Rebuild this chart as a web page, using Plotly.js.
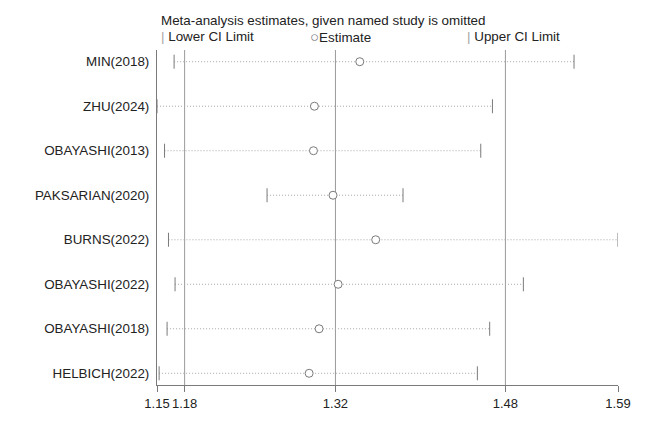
<!DOCTYPE html>
<html>
<head>
<meta charset="utf-8">
<script src="https://cdn.plot.ly/plotly-3.0.1.min.js"></script>
<style>
  html, body { margin: 0; padding: 0; background: #fff; }
  #chart { width: 666px; height: 444px; }
</style>
</head>
<body>
<div id="chart"></div>
<script>
// Leave-one-out sensitivity analysis: pooled estimate with each study omitted
const studies = ["MIN(2018)", "ZHU(2024)", "OBAYASHI(2013)", "PAKSARIAN(2020)",
                 "BURNS(2022)", "OBAYASHI(2022)", "OBAYASHI(2018)", "HELBICH(2022)"];
const lowerCI  = [1.1681, 1.1520, 1.1591, 1.2556, 1.1628, 1.1690, 1.1615, 1.1540];
const estimate = [1.3429, 1.3002, 1.2993, 1.3177, 1.3579, 1.3225, 1.3046, 1.2952];
const upperCI  = [1.5446, 1.4678, 1.4568, 1.3836, 1.5860, 1.4969, 1.4652, 1.4536];

// Overall pooled result (all studies included)
const overallLower = 1.178;
const overallEst   = 1.32;
const overallUpper = 1.48;

const xMin = Math.min(...lowerCI);
const xMax = Math.max(...upperCI);
const tickVals = [xMin, overallLower, overallEst, overallUpper, xMax];
const tickText = tickVals.map(v => v.toFixed(2));

const markGray = "#7a7a7a";
const dotGray  = "#a8a8a8";
const refGray  = "#9a9a9a";
const font = { family: "Liberation Sans, Arial, sans-serif", size: 13, color: "#222222" };
const labelFont = Object.assign({}, font, { size: 13.4 });

// dotted CI segments
const segX = [], segY = [];
studies.forEach((s, i) => {
  segX.push(lowerCI[i], upperCI[i], null);
  segY.push(s, s, null);
});

const tickMarker = { symbol: "line-ns-open", size: 10, color: markGray, line: { color: markGray, width: 1 } };

const traces = [
  {
    type: "scatter", mode: "lines", x: segX, y: segY,
    line: { color: dotGray, width: 1, dash: "1px,2px" },
    hoverinfo: "skip", showlegend: false
  },
  {
    type: "scatter", mode: "markers", x: lowerCI, y: studies, name: "Lower CI Limit",
    marker: tickMarker, showlegend: false
  },
  {
    type: "scatter", mode: "markers", x: upperCI, y: studies, name: "Upper CI Limit",
    marker: tickMarker, showlegend: false
  },
  {
    type: "scatter", mode: "markers", x: estimate, y: studies, name: "Estimate",
    marker: { symbol: "circle", size: 8, color: "#ffffff", line: { color: markGray, width: 1 } },
    showlegend: false
  }
];

// vertical reference lines at the overall CI and estimate
const refLines = [overallLower, overallEst, overallUpper].map(v => ({
  type: "line", xref: "x", yref: "paper", x0: v, x1: v, y0: 0, y1: 1,
  line: { color: refGray, width: 1 }, layer: "below"
}));

function px(p) { return (p - 157.3) / 461; }

const layout = {
  width: 666, height: 444,
  margin: { l: 157, r: 48, t: 50, b: 59 },
  paper_bgcolor: "#fff", plot_bgcolor: "#fff",
  font: font,
  showlegend: false,
  title: {
    text: "Meta-analysis estimates, given named study is omitted",
    font: labelFont, x: 161 / 666, xanchor: "left", xref: "container",
    y: 1 - 20 / 444, yanchor: "middle", yref: "container"
  },
  xaxis: {
    range: [xMin, xMax], tickmode: "array", tickvals: tickVals, ticktext: tickText,
    tickangle: 0, ticks: "outside", ticklen: 6, tickcolor: markGray, tickwidth: 1,
    showline: true, linecolor: markGray, linewidth: 1, showgrid: false, zeroline: false,
    tickfont: font, fixedrange: true
  },
  yaxis: {
    type: "category", categoryorder: "array", categoryarray: studies,
    range: [studies.length - 1 + 0.263, -0.263],
    showline: true, linecolor: markGray, linewidth: 1, showgrid: false, zeroline: false,
    ticks: "", tickfont: labelFont, ticklabelstandoff: 4, fixedrange: true
  },
  shapes: refLines,
  annotations: [
    { xref: "paper", yref: "paper", x: px(159), y: 1 + 14 / 335, xanchor: "left", yanchor: "middle",
      showarrow: false, font: labelFont,
      text: '<span style="color:#a6a6a6">|</span> Lower CI Limit' },
    { xref: "paper", yref: "paper", x: px(308), y: 1 + 14 / 335, xanchor: "left", yanchor: "middle",
      showarrow: false, font: labelFont,
      text: '<span style="color:#808080;font-size:15px">○</span>Estimate' },
    { xref: "paper", yref: "paper", x: px(465), y: 1 + 14 / 335, xanchor: "left", yanchor: "middle",
      showarrow: false, font: labelFont,
      text: '<span style="color:#a6a6a6">|</span> Upper CI Limit' }
  ]
};

Plotly.newPlot("chart", traces, layout, { displayModeBar: false, staticPlot: true });
</script>
</body>
</html>
